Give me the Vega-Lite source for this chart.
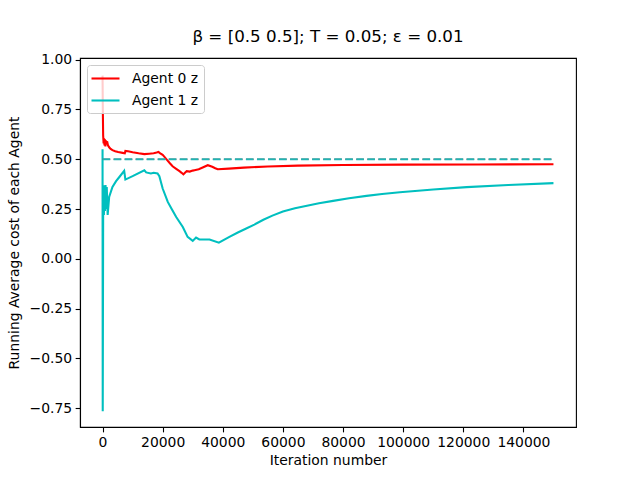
{
  "$schema": "https://vega.github.io/schema/vega-lite/v6.json",
  "width": 496,
  "height": 369,
  "autosize": {"type": "none"},
  "padding": {"left": 80, "top": 58, "right": 64, "bottom": 53},
  "background": "white",
  "title": {"text": "β = [0.5 0.5]; T = 0.05; ε = 0.01", "font": "DejaVu Sans", "fontSize": 16.7, "fontWeight": "normal", "color": "black", "offset": 7, "anchor": "middle"},
  "config": {
    "font": "DejaVu Sans",
    "view": {"stroke": "black", "strokeWidth": 1.1},
    "axis": {
      "labelFont": "DejaVu Sans", "labelFontSize": 13.9, "labelColor": "black",
      "titleFont": "DejaVu Sans", "titleFontSize": 13.9, "titleFontWeight": "normal", "titleColor": "black",
      "tickColor": "black", "tickSize": 4.86, "tickWidth": 1.1, "labelPadding": 3.5,
      "domainColor": "black", "domainWidth": 1.1, "grid": false
    }
  },
  "datasets": {
    "series": [
      {"agent": "Agent 0 z", "iter": 0, "cost": 0.92},
      {"agent": "Agent 0 z", "iter": 100, "cost": 0.74},
      {"agent": "Agent 0 z", "iter": 200, "cost": 0.62},
      {"agent": "Agent 0 z", "iter": 350, "cost": 0.58},
      {"agent": "Agent 0 z", "iter": 500, "cost": 0.605},
      {"agent": "Agent 0 z", "iter": 650, "cost": 0.57},
      {"agent": "Agent 0 z", "iter": 800, "cost": 0.6},
      {"agent": "Agent 0 z", "iter": 950, "cost": 0.565},
      {"agent": "Agent 0 z", "iter": 1100, "cost": 0.595},
      {"agent": "Agent 0 z", "iter": 1300, "cost": 0.575},
      {"agent": "Agent 0 z", "iter": 1500, "cost": 0.59},
      {"agent": "Agent 0 z", "iter": 1800, "cost": 0.57},
      {"agent": "Agent 0 z", "iter": 2200, "cost": 0.56},
      {"agent": "Agent 0 z", "iter": 2700, "cost": 0.552},
      {"agent": "Agent 0 z", "iter": 3300, "cost": 0.546},
      {"agent": "Agent 0 z", "iter": 4200, "cost": 0.54},
      {"agent": "Agent 0 z", "iter": 5200, "cost": 0.536},
      {"agent": "Agent 0 z", "iter": 6700, "cost": 0.532},
      {"agent": "Agent 0 z", "iter": 7400, "cost": 0.53},
      {"agent": "Agent 0 z", "iter": 7600, "cost": 0.542},
      {"agent": "Agent 0 z", "iter": 8500, "cost": 0.54},
      {"agent": "Agent 0 z", "iter": 10000, "cost": 0.535},
      {"agent": "Agent 0 z", "iter": 12000, "cost": 0.53},
      {"agent": "Agent 0 z", "iter": 13900, "cost": 0.526},
      {"agent": "Agent 0 z", "iter": 15500, "cost": 0.528},
      {"agent": "Agent 0 z", "iter": 17000, "cost": 0.53},
      {"agent": "Agent 0 z", "iter": 18000, "cost": 0.534},
      {"agent": "Agent 0 z", "iter": 18600, "cost": 0.537},
      {"agent": "Agent 0 z", "iter": 19200, "cost": 0.53},
      {"agent": "Agent 0 z", "iter": 20000, "cost": 0.522},
      {"agent": "Agent 0 z", "iter": 20600, "cost": 0.512},
      {"agent": "Agent 0 z", "iter": 21500, "cost": 0.496},
      {"agent": "Agent 0 z", "iter": 22400, "cost": 0.48},
      {"agent": "Agent 0 z", "iter": 23300, "cost": 0.465},
      {"agent": "Agent 0 z", "iter": 24500, "cost": 0.452},
      {"agent": "Agent 0 z", "iter": 25600, "cost": 0.44},
      {"agent": "Agent 0 z", "iter": 26300, "cost": 0.432},
      {"agent": "Agent 0 z", "iter": 26900, "cost": 0.424},
      {"agent": "Agent 0 z", "iter": 27500, "cost": 0.433},
      {"agent": "Agent 0 z", "iter": 28000, "cost": 0.44},
      {"agent": "Agent 0 z", "iter": 29000, "cost": 0.438},
      {"agent": "Agent 0 z", "iter": 30000, "cost": 0.443},
      {"agent": "Agent 0 z", "iter": 30600, "cost": 0.445},
      {"agent": "Agent 0 z", "iter": 32000, "cost": 0.45},
      {"agent": "Agent 0 z", "iter": 33500, "cost": 0.46},
      {"agent": "Agent 0 z", "iter": 35000, "cost": 0.47},
      {"agent": "Agent 0 z", "iter": 36500, "cost": 0.462},
      {"agent": "Agent 0 z", "iter": 37500, "cost": 0.455},
      {"agent": "Agent 0 z", "iter": 38300, "cost": 0.45},
      {"agent": "Agent 0 z", "iter": 42000, "cost": 0.453},
      {"agent": "Agent 0 z", "iter": 47000, "cost": 0.458},
      {"agent": "Agent 0 z", "iter": 55000, "cost": 0.464},
      {"agent": "Agent 0 z", "iter": 65000, "cost": 0.468},
      {"agent": "Agent 0 z", "iter": 80000, "cost": 0.471},
      {"agent": "Agent 0 z", "iter": 100000, "cost": 0.473},
      {"agent": "Agent 0 z", "iter": 125000, "cost": 0.474},
      {"agent": "Agent 0 z", "iter": 150000, "cost": 0.475},
      {"agent": "Agent 1 z", "iter": 0, "cost": 0.55},
      {"agent": "Agent 1 z", "iter": 60, "cost": -0.765},
      {"agent": "Agent 1 z", "iter": 200, "cost": 0.2},
      {"agent": "Agent 1 z", "iter": 300, "cost": 0.37},
      {"agent": "Agent 1 z", "iter": 450, "cost": 0.22},
      {"agent": "Agent 1 z", "iter": 600, "cost": 0.36},
      {"agent": "Agent 1 z", "iter": 800, "cost": 0.24},
      {"agent": "Agent 1 z", "iter": 1000, "cost": 0.37},
      {"agent": "Agent 1 z", "iter": 1200, "cost": 0.25},
      {"agent": "Agent 1 z", "iter": 1400, "cost": 0.36},
      {"agent": "Agent 1 z", "iter": 1700, "cost": 0.22},
      {"agent": "Agent 1 z", "iter": 2200, "cost": 0.311},
      {"agent": "Agent 1 z", "iter": 3300, "cost": 0.361},
      {"agent": "Agent 1 z", "iter": 4500, "cost": 0.39},
      {"agent": "Agent 1 z", "iter": 5600, "cost": 0.411},
      {"agent": "Agent 1 z", "iter": 7200, "cost": 0.442},
      {"agent": "Agent 1 z", "iter": 7600, "cost": 0.398},
      {"agent": "Agent 1 z", "iter": 10000, "cost": 0.415},
      {"agent": "Agent 1 z", "iter": 13900, "cost": 0.445},
      {"agent": "Agent 1 z", "iter": 14500, "cost": 0.434},
      {"agent": "Agent 1 z", "iter": 16100, "cost": 0.429},
      {"agent": "Agent 1 z", "iter": 17000, "cost": 0.432},
      {"agent": "Agent 1 z", "iter": 18300, "cost": 0.429},
      {"agent": "Agent 1 z", "iter": 18900, "cost": 0.415},
      {"agent": "Agent 1 z", "iter": 20000, "cost": 0.353},
      {"agent": "Agent 1 z", "iter": 21700, "cost": 0.286},
      {"agent": "Agent 1 z", "iter": 23000, "cost": 0.25},
      {"agent": "Agent 1 z", "iter": 24500, "cost": 0.21},
      {"agent": "Agent 1 z", "iter": 26700, "cost": 0.16},
      {"agent": "Agent 1 z", "iter": 28300, "cost": 0.11},
      {"agent": "Agent 1 z", "iter": 30000, "cost": 0.09},
      {"agent": "Agent 1 z", "iter": 31100, "cost": 0.107},
      {"agent": "Agent 1 z", "iter": 32200, "cost": 0.097},
      {"agent": "Agent 1 z", "iter": 35600, "cost": 0.097},
      {"agent": "Agent 1 z", "iter": 38700, "cost": 0.081},
      {"agent": "Agent 1 z", "iter": 42200, "cost": 0.11},
      {"agent": "Agent 1 z", "iter": 45000, "cost": 0.132},
      {"agent": "Agent 1 z", "iter": 47800, "cost": 0.152},
      {"agent": "Agent 1 z", "iter": 50500, "cost": 0.172},
      {"agent": "Agent 1 z", "iter": 53500, "cost": 0.196},
      {"agent": "Agent 1 z", "iter": 56500, "cost": 0.217},
      {"agent": "Agent 1 z", "iter": 60000, "cost": 0.238},
      {"agent": "Agent 1 z", "iter": 64000, "cost": 0.254},
      {"agent": "Agent 1 z", "iter": 68000, "cost": 0.267},
      {"agent": "Agent 1 z", "iter": 72000, "cost": 0.279},
      {"agent": "Agent 1 z", "iter": 76700, "cost": 0.291},
      {"agent": "Agent 1 z", "iter": 82000, "cost": 0.304},
      {"agent": "Agent 1 z", "iter": 87800, "cost": 0.316},
      {"agent": "Agent 1 z", "iter": 93000, "cost": 0.326},
      {"agent": "Agent 1 z", "iter": 98900, "cost": 0.334},
      {"agent": "Agent 1 z", "iter": 110000, "cost": 0.348},
      {"agent": "Agent 1 z", "iter": 121100, "cost": 0.36},
      {"agent": "Agent 1 z", "iter": 135000, "cost": 0.371},
      {"agent": "Agent 1 z", "iter": 150000, "cost": 0.38}
    ],
    "targets": [
      {"agent": "Agent 0 target", "iter": 0, "cost": 0.5},
      {"agent": "Agent 0 target", "iter": 150000, "cost": 0.5},
      {"agent": "Agent 1 target", "iter": 0, "cost": 0.5},
      {"agent": "Agent 1 target", "iter": 150000, "cost": 0.5}
    ]
  },
  "encoding": {
    "x": {"field": "iter", "type": "quantitative",
      "scale": {"domain": [-7500, 157500], "nice": false, "zero": false},
      "axis": {"title": "Iteration number", "values": [0, 20000, 40000, 60000, 80000, 100000, 120000, 140000], "format": "d", "titlePadding": 4}},
    "y": {"field": "cost", "type": "quantitative",
      "scale": {"domain": [-0.8445, 1.0085], "nice": false, "zero": false},
      "axis": {"title": "Running Average cost of each Agent", "values": [-0.75, -0.5, -0.25, 0, 0.25, 0.5, 0.75, 1.0], "format": ".2f", "titlePadding": 8}}
  },
  "layer": [
    {
      "data": {"name": "series"},
      "mark": {"type": "line", "strokeWidth": 2.08, "clip": true},
      "encoding": {
        "order": {"field": "iter", "type": "quantitative"},
        "color": {"field": "agent", "type": "nominal",
          "scale": {"domain": ["Agent 0 z", "Agent 1 z"], "range": ["#ff0000", "#00bfbf"]},
          "legend": {"title": null, "orient": "none", "legendX": 7, "legendY": 7,
            "symbolType": "M-2,0H2", "symbolSize": 196, "symbolStrokeWidth": 2.08, "symbolOffset": 5,
            "labelFont": "DejaVu Sans", "labelFontSize": 13.9, "labelColor": "black",
            "labelOffset": 18, "rowPadding": 6, "padding": 5,
            "strokeColor": "#cccccc", "fillColor": "rgba(255,255,255,0.8)", "cornerRadius": 3}}
      }
    },
    {
      "data": {"name": "targets"},
      "transform": [{"filter": "datum.agent == 'Agent 0 target'"}],
      "mark": {"type": "line", "strokeWidth": 1.2, "strokeDash": [7.7, 3.33], "color": "#ff0000"},
      "encoding": {"order": {"field": "iter", "type": "quantitative"}}
    },
    {
      "data": {"name": "targets"},
      "transform": [{"filter": "datum.agent == 'Agent 1 target'"}],
      "mark": {"type": "line", "strokeWidth": 2.2, "strokeDash": [7.7, 3.33], "color": "#20b4b4"},
      "encoding": {"order": {"field": "iter", "type": "quantitative"}}
    }
  ]
}
